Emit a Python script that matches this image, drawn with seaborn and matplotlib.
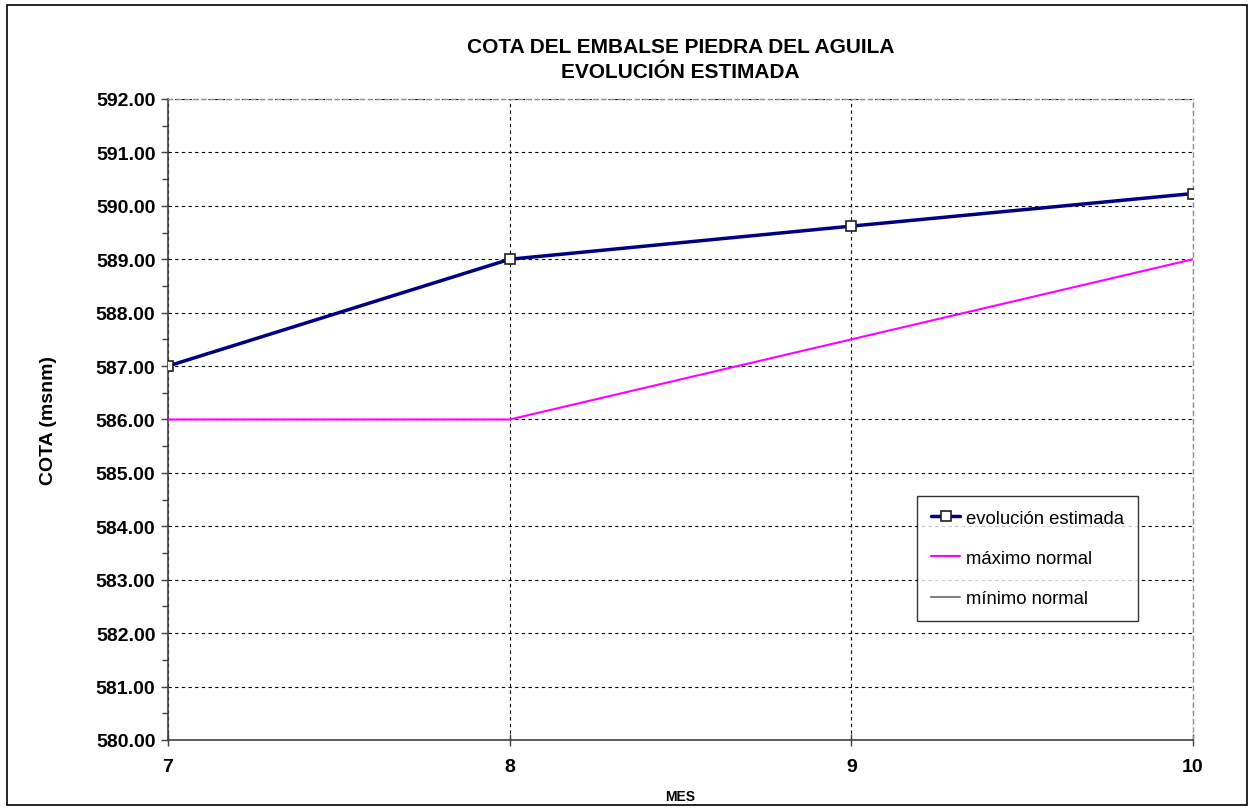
import matplotlib
matplotlib.use("Agg")
import matplotlib.pyplot as plt
import seaborn as sns
import numpy as np
import pandas as pd
from matplotlib.patches import Rectangle
from matplotlib.ticker import MultipleLocator, FormatStrFormatter

sns.set_theme(style="white")
plt.rcParams['font.family'] = ['Liberation Sans', 'DejaVu Sans']
plt.rcParams['text.color'] = 'black'
plt.rcParams['axes.labelcolor'] = 'black'
plt.rcParams['xtick.labelcolor'] = 'black'
plt.rcParams['ytick.labelcolor'] = 'black'

meses = [7, 8, 9, 10]
evolucion = [587.0, 589.0, 589.62, 590.23]
maximo = [586.0, 586.0, 587.5, 589.0]
minimo = [np.nan, np.nan, np.nan, np.nan]

title = "COTA DEL EMBALSE PIEDRA DEL AGUILA\nEVOLUCIÓN ESTIMADA"
xlabel = "MES"
ylabel = "COTA (msnm)"
labels = ["evolución estimada", "máximo normal", "mínimo normal"]

df = pd.DataFrame({"mes": meses, "evo": evolucion, "max": maximo, "min": minimo})

fig = plt.figure(figsize=(12.55, 8.12), dpi=100)
ax = fig.add_axes([168/1255, 1-741/812, (1193-168)/1255, (741-100)/812])

fig.patches.append(Rectangle((7/1255, 1-806/812), (1247-7)/1255, (806-6)/812,
                             transform=fig.transFigure, fill=False,
                             edgecolor="black", linewidth=1.2))

sns.lineplot(data=df, x="mes", y="evo", ax=ax, color="#000080", linewidth=2.5,
             marker="s", markersize=7, markerfacecolor="white",
             markeredgecolor="#202020", markeredgewidth=1.2, label=labels[0],
             zorder=5)
sns.lineplot(data=df, x="mes", y="max", ax=ax, color="#FF00FF", linewidth=1.5,
             label=labels[1], zorder=4)
ax.plot(meses, minimo, color="#808080", linewidth=1.5, label=labels[2])

ax.set_xlim(7, 10)
ax.set_ylim(580, 592)
ax.set_xticks(meses)
ax.yaxis.set_major_locator(MultipleLocator(1))
ax.yaxis.set_minor_locator(MultipleLocator(0.5))
ax.yaxis.set_major_formatter(FormatStrFormatter("%.2f"))

ax.grid(True, which="major", color="black", linestyle=(0, (3, 3)), linewidth=0.8)
ax.set_axisbelow(True)

for s in ["left", "bottom"]:
    ax.spines[s].set_color("#404040")
    ax.spines[s].set_linewidth(1.2)
for s in ["top", "right"]:
    ax.spines[s].set_color("#909090")
    ax.spines[s].set_linestyle((0, (3, 3)))
    ax.spines[s].set_linewidth(1.0)

ax.tick_params(axis="y", which="major", direction="out", length=5, width=1,
               color="#404040", labelsize=14, pad=4, left=True)
ax.tick_params(axis="y", which="minor", direction="out", length=4, width=1,
               color="#404040", left=True)
ax.tick_params(axis="x", which="major", direction="inout", length=8, width=1,
               color="#404040", labelsize=14, pad=9, bottom=True)
for t in ax.get_xticklabels() + ax.get_yticklabels():
    t.set_fontweight("bold")

ax.set_xlabel(xlabel, fontsize=10, fontweight="bold", labelpad=10)
ax.set_ylabel(ylabel, fontsize=14, fontweight="bold", labelpad=28)
ax.set_title(title, fontsize=15, fontweight="bold", pad=16, linespacing=1.4)

leg = ax.legend(loc="upper left", bbox_to_anchor=((917-168)/1025, 1-(497-100)/641),
                frameon=True, fancybox=False, edgecolor="black", fontsize=13.3,
                handlelength=1.6, handletextpad=0.3, labelspacing=1.25,
                borderpad=0.75, borderaxespad=0)
leg.get_frame().set_linewidth(1.0)

fig.savefig("out.png", dpi=100)
